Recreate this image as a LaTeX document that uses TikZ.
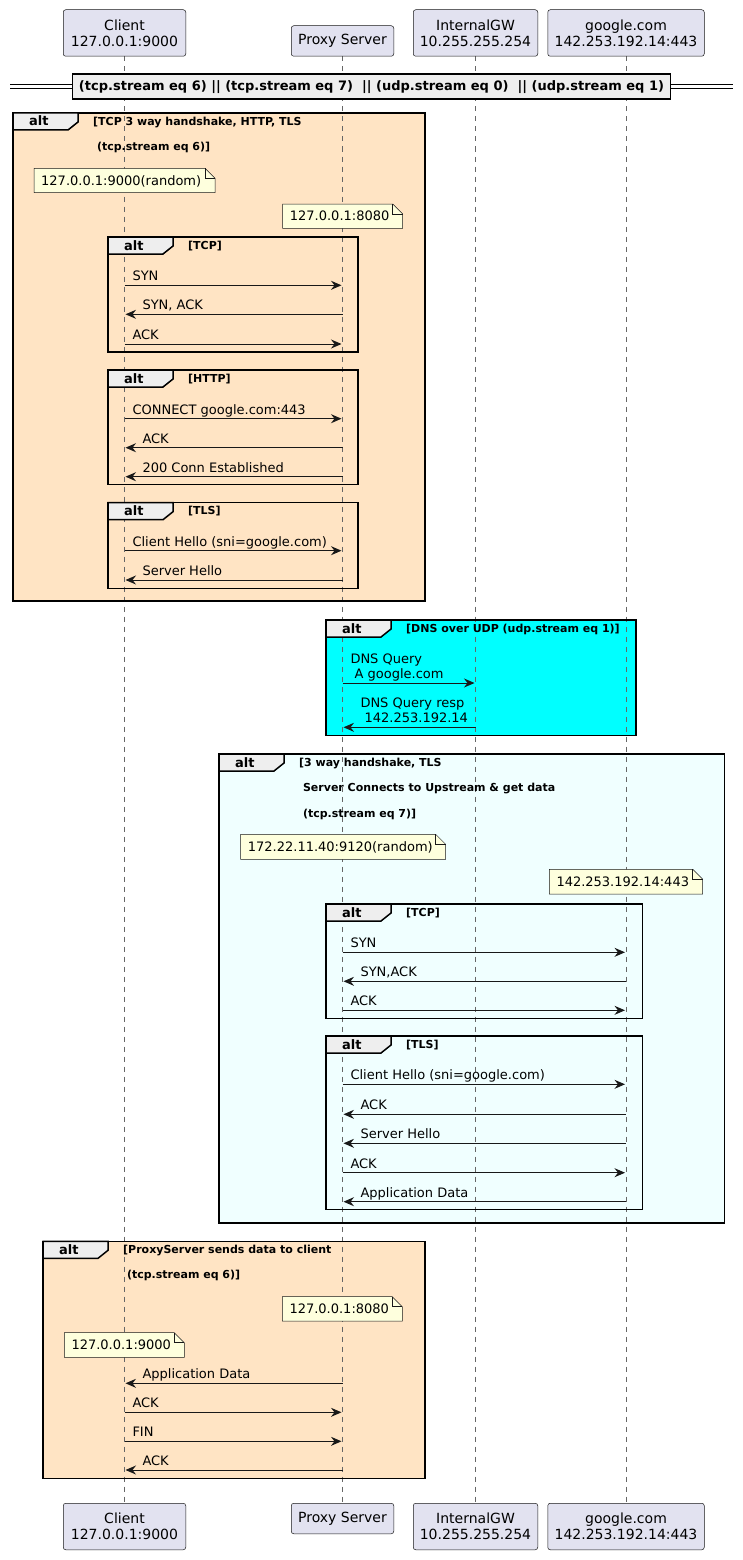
\documentclass[tikz,border=0pt]{standalone}
\usepackage{fontspec}
\setmainfont{DejaVu Sans}
\usetikzlibrary{arrows.meta}

\definecolor{partfill}{HTML}{E2E2F0}
\definecolor{linedark}{HTML}{181818}
\definecolor{notefill}{HTML}{FEFFDD}
\definecolor{tabfill}{HTML}{EEEEEE}
\definecolor{bisquefill}{HTML}{FFE4C4}
\definecolor{cyanfill}{HTML}{00FFFF}
\definecolor{azurefill}{HTML}{F0FFFF}
\definecolor{lifegray}{HTML}{666666}

\pgfdeclarelayer{fills}
\pgfdeclarelayer{lines}
\pgfsetlayers{fills,lines,main}

\tikzset{
  part/.style = {draw=linedark, fill=partfill, rounded corners=2.5pt, line width=0.5pt,
                 align=center, inner sep=0pt, font=\fontsize{14}{16.4}\selectfont},
  lifeline/.style = {draw=lifegray, line width=0.7pt, dash pattern=on 5pt off 5pt},
  msg/.style = {draw=linedark, line width=1pt, shorten >=1pt,
                -{Stealth[length=10.5pt,width=9pt,inset=3.5pt]}},
  lbl/.style = {inner sep=0pt, anchor=base west, font=\fontsize{13}{15}\selectfont},
  frame/.style = {draw=black, line width=1.5pt},
  tab/.style = {frame, fill=tabfill},
  alttxt/.style = {inner sep=0pt, anchor=base west, font=\bfseries\fontsize{13}{15}\selectfont},
  cond/.style = {inner sep=0pt, anchor=north west, align=left,
                 font=\bfseries\fontsize{11}{25.5}\selectfont},
  notebox/.style = {draw=linedark, fill=notefill, line width=0.5pt},
  notetxt/.style = {inner sep=0pt, anchor=base west, font=\fontsize{13}{15}\selectfont},
  divider/.style = {draw=black, line width=1.5pt, fill=tabfill, inner sep=0pt,
                    minimum width=598pt, minimum height=25pt,
                    font=\bfseries\fontsize{13}{15}\selectfont}
}

% x1, y1, x2, y2, fill, name, condition
\newcommand\altframe[7]{%
  \begin{pgfonlayer}{fills}\fill[fill=#5] (#1,#2) rectangle (#3,#4);\end{pgfonlayer}
  \draw[frame] (#1,#2) rectangle (#3,#4);
  \draw[tab] (#1,#2) -- ++(65,0) -- ++(0,9) -- ++(-10,8) -- ++(-55,0) -- cycle;
  \node[alttxt] (#6) at (#1+16,#2+13) {alt};
  \node[cond] (#6-cond) at (#1+80,#2+3.6) {#7};
}
% name, x1, y1, x2, y2, text
\newcommand\seqnote[6]{%
  \filldraw[notebox] (#2,#3) -- (#4-10,#3) -- (#4,#3+10) -- (#4,#5) -- (#2,#5) -- cycle;
  \draw[notebox, fill=none] (#4-10,#3) -- (#4-10,#3+10) -- (#4,#3+10);
  \node[notetxt] (#1) at (#2+7,#5-7.5) {#6};
}
\newcommand\msgright[4]{\draw[msg] (#1 |- 0,#3) -- (#2 |- 0,#3)
  node[lbl, pos=0, xshift=7.5pt, yshift=4.5pt] {#4};}
\newcommand\msgleft[4]{\draw[msg] (#1 |- 0,#3) -- (#2 |- 0,#3)
  node[lbl, pos=1, xshift=17.5pt, yshift=4.5pt] {#4};}

\begin{document}
\begin{tikzpicture}[x=1pt, y=-1pt]
  \useasboundingbox (0,0) rectangle (743,1560);
  \begin{pgfonlayer}{fills}
    \fill[white] (0,0) rectangle (743,1560);
  \end{pgfonlayer}

  % participants
  \node[part, anchor=south, minimum width=122.5pt, minimum height=46.5pt] (cl) at (124.5,56.5) {Client\\127.0.0.1:9000};
  \node[part, anchor=south, minimum width=102.5pt, minimum height=30.5pt] (prx) at (342.5,56.5) {Proxy Server};
  \node[part, anchor=south, minimum width=124.5pt, minimum height=46.5pt] (igw) at (475.5,56.5) {InternalGW\\10.255.255.254};
  \node[part, anchor=south, minimum width=156.5pt, minimum height=46.5pt] (ggl) at (626,56.5) {google.com\\142.253.192.14:443};

  \node[part, anchor=north, minimum width=122.5pt, minimum height=46.5pt] (clb) at (124.5,1503) {Client\\127.0.0.1:9000};
  \node[part, anchor=north, minimum width=102.5pt, minimum height=30.5pt] (prxb) at (342.5,1503) {Proxy Server};
  \node[part, anchor=north, minimum width=124.5pt, minimum height=46.5pt] (igwb) at (475.5,1503) {InternalGW\\10.255.255.254};
  \node[part, anchor=north, minimum width=156.5pt, minimum height=46.5pt] (gglb) at (626,1503) {google.com\\142.253.192.14:443};

  \begin{pgfonlayer}{lines}
    \foreach \p in {cl, prx, igw, ggl}
      \draw[lifeline] (\p.south) -- (\p b.north);
  \end{pgfonlayer}

  % divider
  \node[divider] (sep) at (371.5,86.7) {(tcp.stream eq 6) || (tcp.stream eq 7) \ || (udp.stream eq 0) \ || (udp.stream eq 1)};
  \draw[double, line width=1pt, double distance=3pt] (10,86.7) -- (sep.west);
  \draw[double, line width=1pt, double distance=3pt] (sep.east) -- (733,86.7);

  % client to proxy
  \altframe{13}{113}{425}{601}{bisquefill}{alt1}{[TCP 3 way handshake, HTTP, TLS\\~(tcp.stream eq 6)]}
  \seqnote{n1}{34}{168.3}{215}{192.7}{127.0.0.1:9000(random)}
  \seqnote{n2}{282.7}{204}{402.7}{228.3}{127.0.0.1:8080}

  \altframe{108}{237}{358}{352}{none}{tcp1}{[TCP]}
  \msgright{cl}{prx}{285.3}{SYN}
  \msgleft{prx}{cl}{314.3}{SYN, ACK}
  \msgright{cl}{prx}{344}{ACK}

  \altframe{108}{370}{358}{484.3}{none}{http1}{[HTTP]}
  \msgright{cl}{prx}{418.7}{CONNECT google.com:443}
  \msgleft{prx}{cl}{447.7}{ACK}
  \msgleft{prx}{cl}{476.7}{200 Conn Established}

  \altframe{108}{502.7}{358}{588.7}{none}{tls1}{[TLS]}
  \msgright{cl}{prx}{550.7}{Client Hello (sni=google.com)}
  \msgleft{prx}{cl}{580}{Server Hello}

  % dns
  \altframe{326}{620}{636}{735.3}{cyanfill}{dns}{[DNS over UDP (udp.stream eq 1)]}
  \draw[msg] (prx |- 0,683) -- (igw |- 0,683)
    node[lbl, pos=0, xshift=7.5pt, yshift=20pt] {DNS Query}
    node[lbl, pos=0, xshift=7.5pt, yshift=5pt] {~A google.com};
  \draw[msg] (igw |- 0,727.3) -- (prx |- 0,727.3)
    node[lbl, pos=1, xshift=17.5pt, yshift=20pt] {DNS Query resp}
    node[lbl, pos=1, xshift=17.5pt, yshift=4.5pt] {~142.253.192.14};

  % proxy to upstream
  \altframe{219}{754}{724.3}{1223}{azurefill}{up}{[3 way handshake, TLS\\~Server Connects to Upstream \& get data\\~(tcp.stream eq 7)]}
  \seqnote{n3}{240.7}{834.3}{445.7}{859.3}{172.22.11.40:9120(random)}
  \seqnote{n4}{549.3}{869.3}{702.7}{894}{142.253.192.14:443}

  \altframe{326}{904}{642.3}{1018.3}{none}{tcp2}{[TCP]}
  \msgright{prx}{ggl}{952.3}{SYN}
  \msgleft{ggl}{prx}{981.3}{SYN,ACK}
  \msgright{prx}{ggl}{1010.3}{ACK}

  \altframe{326}{1036}{642.3}{1209.3}{none}{tls2}{[TLS]}
  \msgright{prx}{ggl}{1084.3}{Client Hello (sni=google.com)}
  \msgleft{ggl}{prx}{1114.3}{ACK}
  \msgleft{ggl}{prx}{1143.3}{Server Hello}
  \msgright{prx}{ggl}{1172.7}{ACK}
  \msgleft{ggl}{prx}{1201.7}{Application Data}

  % back to client
  \altframe{43}{1241.3}{425}{1478.3}{bisquefill}{back}{[ProxyServer sends data to client\\~(tcp.stream eq 6)]}
  \seqnote{n5}{282.3}{1296.7}{402.3}{1321}{127.0.0.1:8080}
  \seqnote{n6}{64.3}{1332.7}{184.3}{1357.3}{127.0.0.1:9000}
  \msgleft{prx}{cl}{1383.3}{Application Data}
  \msgright{cl}{prx}{1412.3}{ACK}
  \msgright{cl}{prx}{1441.3}{FIN}
  \msgleft{prx}{cl}{1470}{ACK}
\end{tikzpicture}
\end{document}
